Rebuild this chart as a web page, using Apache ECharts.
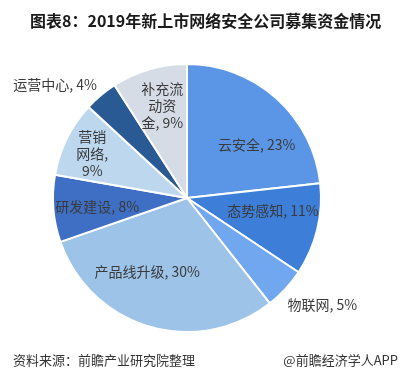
<!DOCTYPE html>
<html>
<head>
<meta charset="utf-8">
<script src="https://cdn.jsdelivr.net/npm/echarts@6/dist/echarts.min.js"></script>
<style>
html,body{margin:0;padding:0;background:#fff;}
#c{width:409px;height:384px;}
</style>
</head>
<body>
<div id="c"></div>
<script>
var categories = ['云安全', '态势感知', '物联网', '产品线升级', '研发建设', '营销网络', '运营中心', '补充流动资金'];
var values = [23, 11, 5, 30, 8, 9, 4, 9];
var labelNames = ['云安全', '态势感知', '物联网', '产品线升级', '研发建设', '营销\n网络', '运营中心', '补充流\n动资\n金'];
var labelSeps = [', ', ', ', ', ', ', ', ', ', ',\n', ', ', ', '];
var sliceColors = ['#5B96E6', '#3D7ED8', '#71A7EE', '#9DC3E8', '#3F6FC4', '#BDD7EF', '#2A5A94', '#D6DCE6'];
var labelShift = [[23, -1], [18, -4], [84, 59], [-20, 7], [-20, 3], [-32, -13], [-87, -60], [-5, -25]];

var chart = echarts.init(document.getElementById('c'), null, {renderer: 'canvas'});
var data = categories.map(function (c, i) {
  return {name: c, value: values[i], itemStyle: {color: sliceColors[i]}};
});
var fontCJK = '"Noto Sans CJK SC", "Microsoft YaHei", sans-serif';
chart.setOption({
  animation: false,
  backgroundColor: '#ffffff',
  title: [
    {text: '图表8：2019年新上市网络安全公司募集资金情况', left: 25, top: 8,
     textStyle: {fontSize: 16, fontWeight: 'bold', color: '#1a1a1a', fontFamily: fontCJK}},
    {text: '资料来源：前瞻产业研究院整理', left: 8, top: 349,
     textStyle: {fontSize: 13, fontWeight: 'normal', color: '#333', fontFamily: fontCJK}},
    {text: '@前瞻经济学人APP', right: 6, top: 349,
     textStyle: {fontSize: 13, fontWeight: 'normal', color: '#333', fontFamily: fontCJK}}
  ],
  series: [{
    type: 'pie',
    center: [187, 198],
    radius: [0, 134],
    startAngle: 90,
    clockwise: true,
    avoidLabelOverlap: false,
    data: data,
    itemStyle: {borderColor: '#ffffff', borderWidth: 2},
    label: {
      show: true,
      position: 'inside',
      color: '#3a3a3a',
      fontSize: 14,
      lineHeight: 17,
      fontFamily: fontCJK,
      formatter: function (p) { return labelNames[p.dataIndex] + labelSeps[p.dataIndex] + p.value + '%'; }
    },
    labelLine: {show: false},
    labelLayout: function (p) {
      var s = labelShift[p.dataIndex];
      return {dx: s[0], dy: s[1]};
    },
    emphasis: {disabled: true}
  }]
});
</script>
</body>
</html>
